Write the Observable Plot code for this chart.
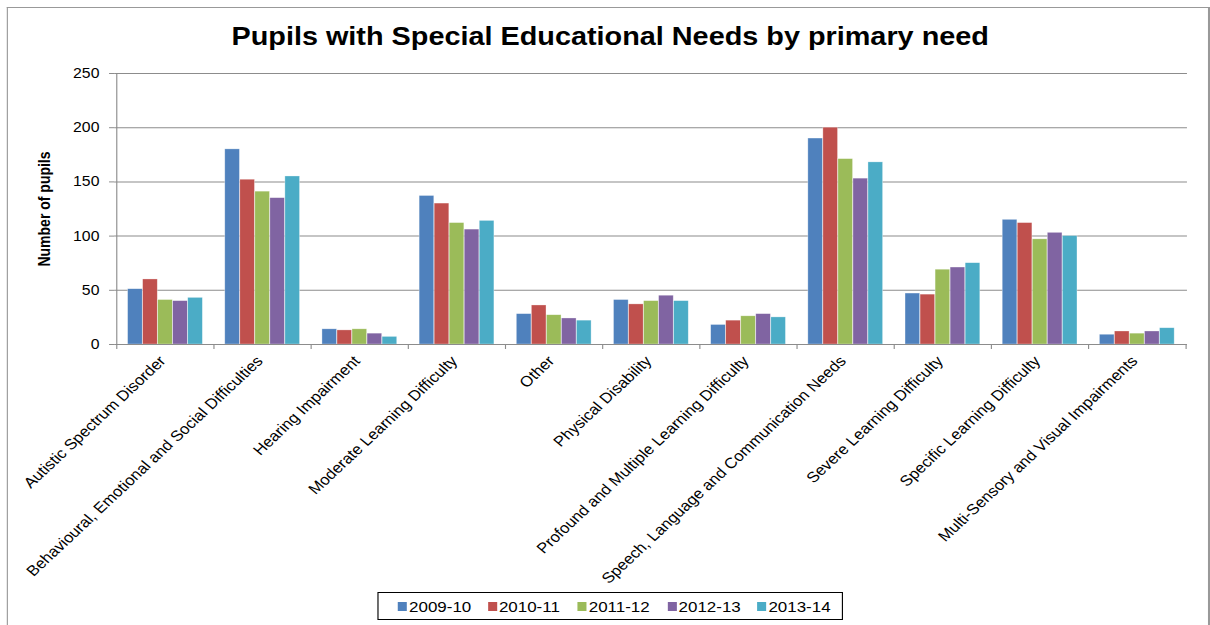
<!DOCTYPE html>
<html>
<head>
<meta charset="utf-8">
<script src="https://cdn.jsdelivr.net/npm/d3@7"></script>
<script src="https://cdn.jsdelivr.net/npm/@observablehq/plot@0.6"></script>
<style>
  html, body { margin: 0; padding: 0; background: #fff; }
  body { width: 1210px; height: 625px; position: relative; overflow: hidden; font-family: "Liberation Sans", Arial, sans-serif; }
  #wrap { position: absolute; left: 0; top: 0; width: 1071px; height: 625px; transform: scaleX(1.13); transform-origin: 0 0; }
  #frame { position: absolute; left: 6px; top: 7px; width: 1062px; height: 640px; border-top: 1px solid #999; border-left: 1px solid #999; border-right: 2px solid #999; }
  #title { position: absolute; left: 0; width: 1080px; top: 20px; text-align: center; font-size: 25.5px; font-weight: bold; line-height: 32px; color: #000; }
  #chart { position: absolute; left: 0; top: 60px; }
  #ylabel { position: absolute; left: 39px; top: 209px; transform: translate(-50%, -50%) rotate(-90deg); font-size: 14px; font-weight: bold; white-space: nowrap; color: #000; }
  #legend { position: absolute; left: 334px; top: 592px; width: 410px; height: 26px; border: 1px solid #000; font-size: 15px; color: #000; }
  .item { position: absolute; top: 0; height: 26px; display: flex; align-items: center; gap: 2px; }
  .sw { width: 8px; height: 9px; display: inline-block; }
</style>
</head>
<body>
<div id="wrap">
<div id="frame"></div>
<div id="title">Pupils with Special Educational Needs by primary need</div>
<div id="chart"></div>
<div id="ylabel">Number of pupils</div>
<div id="legend"></div>
</div>
<script>
const categories = [
  "Autistic Spectrum Disorder",
  "Behavioural, Emotional and Social Difficulties",
  "Hearing Impairment",
  "Moderate Learning Difficulty",
  "Other",
  "Physical Disability",
  "Profound and Multiple Learning Difficulty",
  "Speech, Language and Communication Needs",
  "Severe Learning Difficulty",
  "Specific Learning Difficulty",
  "Multi-Sensory and Visual Impairments"
];
const years = ["2009-10", "2010-11", "2011-12", "2012-13", "2013-14"];
const colors = ["#4F81BD", "#C0504D", "#9BBB59", "#8064A2", "#4BACC6"];
const v2009 = [51, 180, 14, 137, 28, 41, 18, 190, 47, 115, 9];
const v2010 = [60, 152, 13, 130, 36, 37, 22, 200, 46, 112, 12];
const v2011 = [41, 141, 14, 112, 27, 40, 26, 171, 69, 97, 10];
const v2012 = [40, 135, 10, 106, 24, 45, 28, 153, 71, 103, 12];
const v2013 = [43, 155, 7, 114, 22, 40, 25, 168, 75, 100, 15];
const yTicks = [0, 50, 100, 150, 200, 250];

const series = [v2009, v2010, v2011, v2012, v2013];
const data = [];
years.forEach((yr, i) => categories.forEach((c, j) => data.push({category: c, year: yr, value: series[i][j]})));

const W = 1071, H = 525, ML = 101, MR = 20.6, MT = 13, MB = 241;
const bw = (W - ML - MR) / categories.length;
const barW = 13.3;
const inset = (bw - barW) / 2;
const gridColor = "#8c8c8c";

const plot = Plot.plot({
  width: W, height: H,
  marginLeft: ML, marginRight: MR, marginTop: MT, marginBottom: MB,
  style: {fontFamily: "Liberation Sans, Arial, sans-serif", color: "#000", background: "transparent", overflow: "visible"},
  x: {domain: categories, padding: 0, axis: null},
  y: {domain: [0, 250], axis: null},
  marks: [
    Plot.ruleY(yTicks.slice(1), {stroke: gridColor, strokeWidth: 1}),
    ...years.map((yr, i) => Plot.barY(data.filter(d => d.year === yr), {
      x: "category", y: "value", fill: colors[i],
      insetLeft: inset, insetRight: inset, dx: (i - 2) * barW,
      stroke: "#fff", strokeOpacity: 0.5, strokeWidth: 0.6
    })),
    Plot.ruleY([0], {stroke: gridColor, strokeWidth: 1}),
    Plot.axisY(yTicks, {anchor: "left", tickSize: 4.5, tickPadding: 9, fontSize: 14, stroke: gridColor, label: null}),
    Plot.ruleX(categories.slice(0, 1), {x: d => d, dx: -bw / 2, y1: 0, y2: 250, stroke: gridColor}),
    Plot.axisX(categories, {anchor: "bottom", tickSize: 5, dx: -bw / 2, tickFormat: () => "", stroke: gridColor, label: null}),
    Plot.axisX(categories.slice(-1), {anchor: "bottom", tickSize: 5, dx: bw / 2, tickFormat: () => "", stroke: gridColor, label: null}),
    Plot.axisX(categories, {anchor: "bottom", tickSize: 0, tickRotate: -46.6, tickPadding: 14, dx: -2.5, fontSize: 14.8, fill: "#000", label: null})
  ]
});
document.getElementById("chart").appendChild(plot);

const legend = document.getElementById("legend");
years.forEach((yr, i) => {
  const it = document.createElement("div");
  it.className = "item";
  it.style.left = (17 + i * 79.5) + "px";
  it.innerHTML = `<span class="sw" style="background:${colors[i]}"></span><span>${yr}</span>`;
  legend.appendChild(it);
});
</script>
</body>
</html>
